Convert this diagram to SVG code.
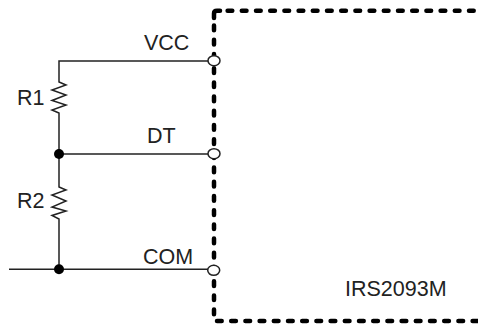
<svg xmlns="http://www.w3.org/2000/svg" width="478" height="324" viewBox="0 0 478 324">
<style>
text{font-family:"Liberation Sans",Arial,sans-serif;font-size:21.500px;fill:#222}
.w{fill:none;stroke:#222;stroke-width:1.5}
.b{fill:none;stroke:#000;stroke-width:4.500;stroke-linecap:round;stroke-dasharray:4.700 9.500}
.c{fill:none;stroke:#000;stroke-width:4.500;stroke-linecap:round}
.o{fill:#fff;stroke:#222;stroke-width:1.5}
.d{fill:#000}
</style>
<rect width="478" height="324" fill="#fff"/>
<g id="IRS2093M">
<path class="c" d="M214 18V13.500Q214 10.700 217 10.700H220"/>
<path class="b" d="M227.600 10.700H478"/>
<path class="b" d="M214 25.600V318"/>
<path class="b" d="M217 321H478"/>
<text x="345" y="296">IRS2093M</text>
</g>
<g id="connectors">
<path class="w" d="M208 61H59V82L66 85L52 90L66 95L52 100.500L66 105L52 110L59 113V187L66 190L52 195L66 201L52 207L66 211L52 215.500L59 219V269"/>
<path class="w" d="M59 154H208M9 269.300H208"/>
</g>
<g id="VCC"><ellipse class="o" cx="214" cy="60.700" rx="6" ry="5"/><text x="144" y="50">VCC</text></g>
<g id="DT"><ellipse class="o" cx="214" cy="153.700" rx="6" ry="5"/><text x="147" y="143">DT</text></g>
<g id="COM"><ellipse class="o" cx="213.700" cy="270.300" rx="6" ry="5"/><text x="143" y="264">COM</text></g>
<g id="R1"><text x="17" y="105">R1</text></g>
<g id="R2"><text x="17" y="208">R2</text></g>
<g id="J1"><circle class="d" cx="59" cy="154" r="5"/></g>
<g id="J2"><circle class="d" cx="59" cy="269.300" r="5"/></g>
</svg>
